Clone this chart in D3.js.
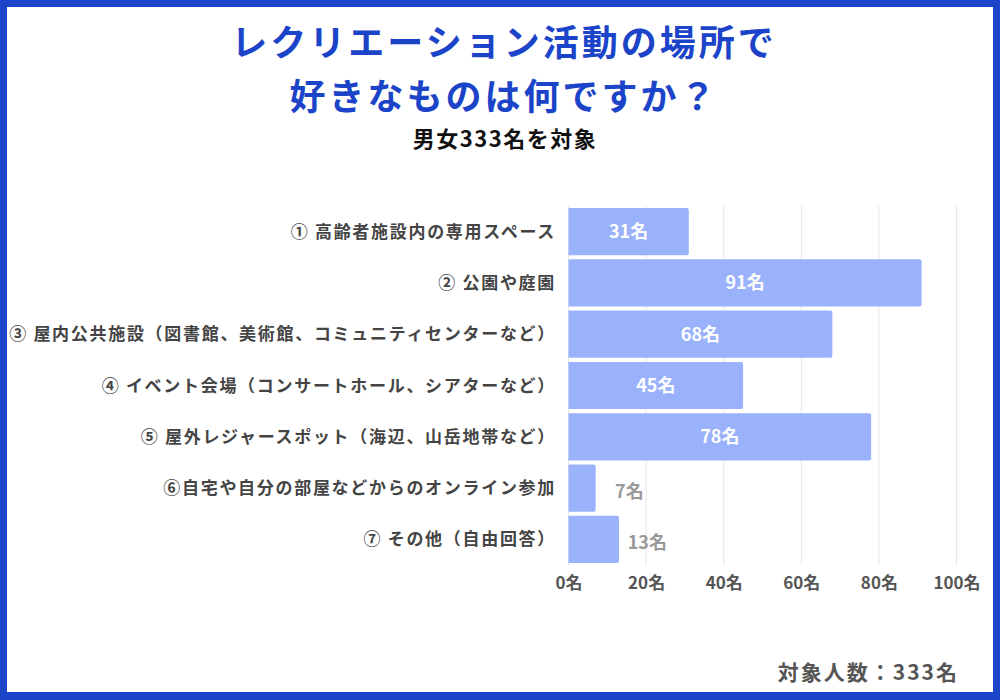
<meta charset='utf-8'>
<script src="https://d3js.org/d3.v7.min.js"></script>
<body style="margin:0"></body>
<script>

// DATA
var categories = [
    '① 高齢者施設内の専用スペース',
    '② 公園や庭園',
    '③ 屋内公共施設（図書館、美術館、コミュニティセンターなど）',
    '④ イベント会場（コンサートホール、シアターなど）',
    '⑤ 屋外レジャースポット（海辺、山岳地帯など）',
    '⑥自宅や自分の部屋などからのオンライン参加',
    '⑦ その他（自由回答）'
];
var counts = [31, 91, 68, 45, 78, 7, 13];
var ticks = [0, 20, 40, 60, 80, 100];
var titleLines = ['レクリエーション活動の場所で', '好きなものは何ですか？'];
var subtitle = '男女333名を対象';
var footnote = '対象人数：333名';

// SETTINGS
var ww = 1000, wh = 700;
var font = '"Noto Sans CJK JP", "Noto Sans", sans-serif';
var blue = '#1c44c8';
var barcol = '#99b2fb';

var svg = d3.select('body').append('svg')
    .attr('width', ww)
    .attr('height', wh)
    .style('display', 'block')
    .style('font-family', font);

svg.append('rect')
    .attr('width', ww).attr('height', wh)
    .attr('fill', blue);
svg.append('rect')
    .attr('x', 7).attr('y', 7)
    .attr('width', ww - 14).attr('height', wh - 15)
    .attr('fill', 'white');

// TITLE
svg.selectAll('.title')
    .data(titleLines)
    .enter().append('text')
    .attr('class', 'title')
    .attr('x', 504)
    .attr('y', function (d, i) { return 56 + i * 54; })
    .attr('text-anchor', 'middle')
    .attr('font-size', 36)
    .attr('font-weight', 'bold')
    .attr('letter-spacing', 3)
    .attr('fill', blue)
    .text(function (d) { return d; });

svg.append('text')
    .attr('x', 505)
    .attr('y', 147)
    .attr('text-anchor', 'middle')
    .attr('font-size', 22)
    .attr('font-weight', 'bold')
    .attr('letter-spacing', 1.5)
    .attr('fill', '#111')
    .text(subtitle);

// SCALES
var x = d3.scaleLinear().domain([0, 100]).range([568.5, 956.5]);
var y = d3.scaleBand().domain(categories).range([206, 565])
    .paddingInner(0.08).paddingOuter(0.04);

// GRID
svg.append('g').selectAll('line')
    .data(ticks)
    .enter().append('line')
    .attr('x1', function (d) { return x(d); })
    .attr('x2', function (d) { return x(d); })
    .attr('y1', 206)
    .attr('y2', 565)
    .attr('stroke', '#e6e6e6')
    .attr('stroke-width', 1);

// X AXIS
var xaxis = svg.append('g')
    .attr('transform', 'translate(0,' + 565 + ')')
    .call(d3.axisBottom(x).tickValues(ticks).tickSize(0).tickPadding(12)
        .tickFormat(function (d) { return d + '名'; }));
xaxis.select('.domain').remove();
xaxis.selectAll('text')
    .attr('font-family', font)
    .attr('font-size', 17)
    .attr('font-weight', 'bold')
    .attr('fill', '#555');

// Y LABELS
svg.append('g').selectAll('text')
    .data(categories)
    .enter().append('text')
    .attr('x', 556)
    .attr('y', function (d) { return y(d) + y.bandwidth() / 2; })
    .attr('dy', '0.36em')
    .attr('text-anchor', 'end')
    .attr('font-size', 17)
    .attr('font-weight', 'bold')
    .attr('letter-spacing', 1.7)
    .attr('fill', '#444')
    .text(function (d) { return d; });

// BARS
var rows = categories.map(function (c, i) { return {c: c, v: counts[i]}; });
svg.append('g').selectAll('path')
    .data(rows)
    .enter().append('path')
    .attr('fill', barcol)
    .attr('d', function (d) {
        var x0 = x(0), x1 = x(d.v), y0 = y(d.c), h = y.bandwidth(), r = 2;
        return 'M' + x0 + ',' + y0 + 'H' + (x1 - r) + 'Q' + x1 + ',' + y0 + ' ' + x1 + ',' + (y0 + r) +
            'V' + (y0 + h - r) + 'Q' + x1 + ',' + (y0 + h) + ' ' + (x1 - r) + ',' + (y0 + h) +
            'H' + x0 + 'Z';
    });

// VALUE LABELS
svg.append('g').selectAll('text')
    .data(rows)
    .enter().append('text')
    .attr('x', function (d) { return d.v > 20 ? (x(0) + x(d.v)) / 2 : x(d.v) + 48; })
    .attr('y', function (d) { return y(d.c) + y.bandwidth() / 2; })
    .attr('dy', function (d) { return d.v > 20 ? '0.36em' : '0.55em'; })
    .attr('text-anchor', function (d) { return d.v > 20 ? 'middle' : 'end'; })
    .attr('font-size', 18)
    .attr('font-weight', 'bold')
    .attr('fill', function (d) { return d.v > 20 ? 'white' : '#999'; })
    .text(function (d) { return d.v + '名'; });

// FOOTER
svg.append('text')
    .attr('x', 959)
    .attr('y', 680)
    .attr('text-anchor', 'end')
    .attr('font-size', 21)
    .attr('font-weight', 'bold')
    .attr('letter-spacing', 2)
    .attr('fill', '#555')
    .text(footnote);

</script>
